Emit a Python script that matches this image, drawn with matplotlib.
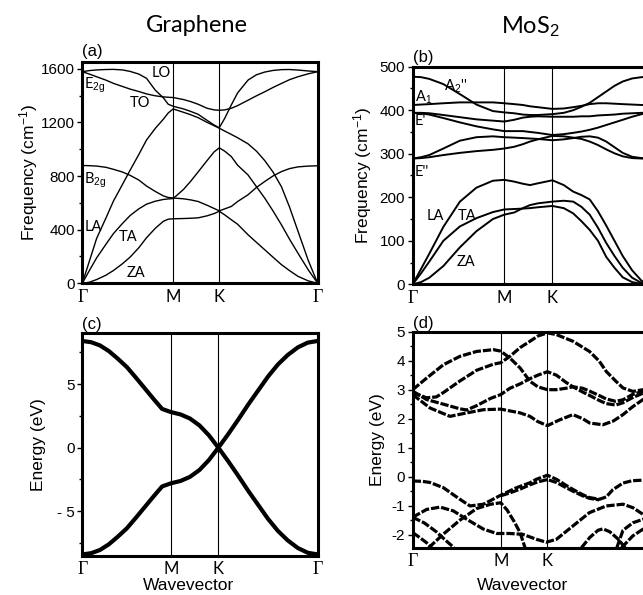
import matplotlib
matplotlib.use('Agg')
import matplotlib.pyplot as plt
from matplotlib.ticker import MultipleLocator, FixedLocator, FixedFormatter

plt.rcParams['font.family'] = ['Liberation Sans', 'DejaVu Sans']
plt.rcParams['axes.unicode_minus'] = False
plt.rcParams['mathtext.fontset'] = 'custom'
plt.rcParams['mathtext.rm'] = 'Liberation Sans'
plt.rcParams['mathtext.it'] = 'Liberation Sans:italic'

# ---------------- data ----------------
# (a) graphene phonons, wavevector along Gamma-M-K-Gamma (0..1)
gr_ph_x = [0, 0.03, 0.061, 0.10, 0.132, 0.17, 0.203, 0.24, 0.273, 0.31, 0.344, 0.365, 0.386,
           0.43, 0.46, 0.492, 0.53, 0.56, 0.582, 0.605, 0.633, 0.66, 0.704, 0.74, 0.775, 0.81,
           0.846, 0.88, 0.916, 0.96, 1.0]
gr_za = [0, 8, 28, 60, 95, 145, 195, 265, 340, 410, 462, 478, 481, 483, 485, 488, 503, 520, 537,
         510, 474, 440, 362, 305, 250, 195, 139, 95, 52, 18, 0]
gr_ta = [0, 95, 190, 290, 370, 445, 505, 555, 590, 612, 625, 629, 632, 700, 760, 830, 915, 980,
         1010, 985, 945, 880, 808, 720, 635, 540, 436, 330, 225, 100, 0]
gr_zo = [878, 877, 874, 865, 850, 830, 805, 770, 725, 685, 652, 640, 636, 630, 622, 610, 582, 558,
         540, 555, 573, 610, 660, 715, 759, 800, 833, 855, 868, 874, 876]
gr_la = [0, 165, 335, 485, 612, 735, 843, 960, 1069, 1155, 1223, 1270, 1300, 1275, 1257, 1235,
         1200, 1175, 1156, 1135, 1110, 1085, 1040, 985, 915, 830, 720, 570, 390, 170, 0]
gr_lo = [1578, 1586, 1591, 1594, 1595, 1591, 1580, 1560, 1528, 1440, 1384, 1335, 1320, 1300,
         1282, 1260, 1215, 1180, 1160, 1230, 1330, 1420, 1515, 1555, 1575, 1587, 1593, 1594,
         1590, 1583, 1578]
gr_to = [1578, 1560, 1540, 1515, 1491, 1468, 1448, 1430, 1412, 1398, 1390, 1387, 1385, 1370,
         1355, 1335, 1305, 1293, 1290, 1293, 1305, 1325, 1365, 1398, 1428, 1460, 1490, 1518,
         1540, 1562, 1578]
gr_ph_nodes = [0, 0.386, 0.582, 1.0]

# (b) MoS2 phonons
mo_ph_x = [0, 0.035, 0.07, 0.13, 0.2, 0.27, 0.34, 0.388, 0.43, 0.467, 0.497, 0.53, 0.592, 0.64,
           0.68, 0.715, 0.75, 0.785, 0.82, 0.855, 0.89, 0.93, 0.97, 1.0]
mo_la = [0, 35, 70, 132, 190, 222, 238, 240, 236, 231, 228, 232, 239, 228, 213, 205, 195, 168,
         135, 100, 65, 32, 8, 0]
mo_ta = [0, 25, 52, 100, 133, 152, 166, 172, 173, 174, 175, 177, 180, 175, 163, 145, 125, 100,
         63, 38, 16, 5, 1, 0]
mo_za = [0, 5, 15, 42, 85, 122, 150, 160, 165, 175, 182, 186, 190, 192, 190, 178, 160, 130, 95,
         65, 38, 15, 3, 0]
mo_a2 = [477, 476, 472, 460, 437, 413, 398, 395, 393, 390, 389, 389, 391, 394, 400, 408, 417,
         430, 443, 456, 466, 473, 476, 477]
mo_a1 = [412, 413, 414, 416, 418, 418, 418, 416, 414, 412, 409, 407, 403, 404, 407, 410, 414,
         416, 416, 415, 414, 413, 412, 412]
mo_e1a = [394, 394, 393, 389, 384, 379, 376, 374, 378, 383, 385, 386, 385, 385, 385, 386, 386,
          388, 389, 390, 392, 393, 394, 394]
mo_e1b = [394, 393, 390, 382, 372, 363, 356, 352, 352, 352, 350, 348, 343, 345, 348, 351, 355,
          360, 366, 372, 378, 385, 391, 394]
mo_e2a = [289, 292, 297, 312, 330, 338, 340, 338, 337, 336, 335, 334, 331, 333, 336, 339, 340,
          337, 328, 315, 302, 293, 290, 289]
mo_e2b = [289, 290, 292, 297, 302, 306, 309, 312, 316, 322, 328, 333, 341, 340, 337, 334, 328,
          320, 310, 301, 294, 290, 289, 289]
mo_ph_nodes = [0, 0.388, 0.592, 1.0]

# (c) graphene pi bands
gr_el_x = [0, 0.038, 0.075, 0.113, 0.151, 0.189, 0.226, 0.264, 0.302, 0.339, 0.377, 0.417,
           0.457, 0.498, 0.538, 0.578, 0.62, 0.662, 0.705, 0.747, 0.789, 0.831, 0.873, 0.916,
           0.958, 1.0]
gr_pi_up = [8.4, 8.3, 8.05, 7.6, 7.0, 6.35, 5.55, 4.7, 3.85, 3.05, 2.8, 2.62, 2.3, 1.75, 0.97,
            0.0, 1.07, 2.2, 3.4, 4.5, 5.6, 6.55, 7.3, 7.9, 8.27, 8.4]
gr_pi_dn = [-8.4, -8.3, -8.05, -7.6, -7.0, -6.35, -5.55, -4.7, -3.85, -3.05, -2.8, -2.62, -2.3,
            -1.75, -0.97, 0.0, -1.07, -2.2, -3.4, -4.5, -5.6, -6.55, -7.3, -7.9, -8.27, -8.4]
gr_el_nodes = [0, 0.377, 0.578, 1.0]

# (d) MoS2 electronic bands (each band: wavevector, energy)
c1_x = [0, 0.073, 0.158, 0.229, 0.3, 0.373, 0.455, 0.497, 0.53, 0.571, 0.62, 0.679, 0.72, 0.75,
        0.806, 0.85, 0.891, 0.93, 0.976, 1.0]
c1_e = [2.83, 2.37, 2.08, 2.2, 2.31, 2.33, 2.2, 2.08, 1.9, 1.76, 1.95, 2.14, 2.0, 1.85, 1.79,
        1.92, 2.14, 2.4, 2.66, 2.8]
c2_x = [0, 0.059, 0.13, 0.2, 0.271, 0.342, 0.373, 0.412, 0.455, 0.497, 0.53, 0.571, 0.609, 0.65,
        0.679, 0.72, 0.75, 0.79, 0.82, 0.86, 0.891, 0.93, 0.976, 1.0]
c2_e = [3.0, 3.4, 3.86, 4.15, 4.32, 4.38, 4.33, 4.09, 3.75, 3.29, 3.1, 3.0, 3.0, 3.05, 3.1, 3.05,
        2.95, 2.8, 2.68, 2.6, 2.65, 2.83, 2.95, 3.0]
c3_x = [0, 0.059, 0.1, 0.13, 0.2, 0.271, 0.342, 0.373, 0.412, 0.455, 0.497, 0.53, 0.571, 0.609,
        0.679, 0.749, 0.791, 0.82, 0.86, 0.891, 0.933, 0.976, 1.0]
c3_e = [2.9, 2.72, 2.75, 2.9, 3.3, 3.67, 3.88, 3.93, 4.15, 4.45, 4.67, 4.85, 4.96, 4.9, 4.67,
        4.32, 3.98, 3.63, 3.3, 3.06, 2.94, 3.0, 3.05]
c4_x = [0, 0.059, 0.13, 0.2, 0.229, 0.271, 0.33, 0.373, 0.412, 0.455, 0.497, 0.53, 0.571, 0.609,
        0.65, 0.679, 0.72, 0.75, 0.79, 0.82, 0.86, 0.891, 0.93, 0.976, 1.0]
c4_e = [2.95, 2.66, 2.5, 2.34, 2.3, 2.45, 2.7, 2.83, 3.05, 3.2, 3.38, 3.5, 3.62, 3.5, 3.25, 3.1,
        2.92, 2.8, 2.63, 2.52, 2.47, 2.55, 2.72, 2.88, 2.9]
v1_x = [0, 0.04, 0.073, 0.13, 0.2, 0.243, 0.3, 0.373, 0.44, 0.497, 0.524, 0.571, 0.609, 0.65,
        0.679, 0.72, 0.749, 0.791, 0.82, 0.848, 0.891, 0.93, 0.976, 1.0]
v1_e = [-0.15, -0.16, -0.2, -0.38, -0.78, -1.01, -0.95, -0.64, -0.38, -0.21, -0.09, 0.05, -0.09,
        -0.3, -0.44, -0.62, -0.72, -0.78, -0.7, -0.45, -0.22, -0.14, -0.12, -0.15]
v2_x = [0.373, 0.412, 0.455, 0.497, 0.53, 0.571, 0.609, 0.65, 0.679, 0.72, 0.75, 0.79]
v2_e = [-0.66, -0.56, -0.43, -0.28, -0.18, -0.1, -0.2, -0.38, -0.5, -0.66, -0.75, -0.8]
v3_x = [0, 0.059, 0.116, 0.172, 0.229, 0.3, 0.356, 0.412, 0.467, 0.524, 0.566, 0.609, 0.679,
        0.749, 0.82, 0.891, 0.933, 0.976, 1.0]
v3_e = [-1.4, -1.13, -1.05, -1.18, -1.47, -1.81, -1.96, -1.96, -1.99, -2.16, -2.26, -2.16, -1.7,
        -1.24, -1.01, -0.95, -1.07, -1.3, -1.4]
v4_x = [0, 0.05, 0.1, 0.14, 0.175]
v4_e = [-1.4, -1.6, -1.9, -2.2, -2.45]
v5_x = [0, 0.03, 0.059, 0.08]
v5_e = [-1.93, -2.1, -2.28, -2.45]
v6_x = [0.068, 0.13, 0.2, 0.271, 0.33, 0.373, 0.4, 0.43, 0.455, 0.476]
v6_e = [-2.45, -1.98, -1.5, -1.1, -0.95, -0.9, -1.15, -1.55, -1.93, -2.45]
v7_x = [0.715, 0.75, 0.785, 0.806, 0.835, 0.87, 0.9]
v7_e = [-2.45, -2.1, -1.85, -1.8, -1.9, -2.15, -2.45]
v8_x = [0.865, 0.891, 0.933, 0.976, 1.0]
v8_e = [-2.45, -1.85, -1.59, -1.47, -1.4]
v9_x = [0.885, 0.933, 0.976, 1.0]
v9_e = [-2.45, -2.04, -1.81, -1.75]
mo_el_nodes = [0, 0.373, 0.571, 1.0]

node_labels = ['\u0393', 'M', 'K', '\u0393']

# ---------------- layout ----------------
W, H = 643, 595
fig = plt.figure(figsize=(W / 100, H / 100), dpi=100)


def box(left, top, right, bottom):
    return fig.add_axes([left / W, 1 - bottom / H, (right - left) / W, (bottom - top) / H])


def style(ax, nodes, ylo, yhi, major, minor, xpad):
    ax.set_xlim(0, 1)
    ax.set_ylim(ylo, yhi)
    for n in nodes[1:-1]:
        ax.axvline(n, color='black', lw=0.8, zorder=1)
    for s in ax.spines.values():
        s.set_linewidth(2.2)
    ax.set_xticks(nodes)
    ax.set_xticklabels(node_labels)
    for i, t in enumerate(ax.get_xticklabels()):
        if i in (0, 3):
            t.set_fontfamily('Liberation Serif')
            t.set_fontsize(13)
        else:
            t.set_fontfamily('Lato')
            t.set_fontsize(12)
    ax.tick_params(axis='x', length=0, pad=xpad)
    ax.yaxis.set_major_locator(MultipleLocator(major))
    ax.yaxis.set_minor_locator(MultipleLocator(minor))
    ax.tick_params(axis='y', which='major', direction='out', length=3.5, width=1,
                   labelsize=11, pad=2)
    ax.tick_params(axis='y', which='minor', direction='out', length=2.5, width=1)


lbl_font = dict(family='Lato', fontsize=10.5)

# (a)
ax = box(82.3, 62, 317.7, 283.3)
for y in (gr_za, gr_ta, gr_zo, gr_la, gr_lo, gr_to):
    ax.plot(gr_ph_x, y, color='black', lw=1.0, zorder=2)
style(ax, gr_ph_nodes, 0, 1650, 400, 200, 4)
ax.set_ylabel('Frequency (cm$^{-1}$)', fontsize=12.5)
ax.yaxis.set_label_coords(-0.178, 0.5)
ax.text(0.334, 1569, 'LO', ha='center', va='center', **lbl_font)
ax.text(0.245, 1345, 'TO', ha='center', va='center', **lbl_font)
ax.text(0.008, 1476, r'E$_{\mathrm{2g}}$', ha='left', va='center', **lbl_font)
ax.text(0.008, 769, r'B$_{\mathrm{2g}}$', ha='left', va='center', **lbl_font)
ax.text(0.008, 423, 'LA', ha='left', va='center', **lbl_font)
ax.text(0.196, 348, 'TA', ha='center', va='center', **lbl_font)
ax.text(0.228, 80, 'ZA', ha='center', va='center', **lbl_font)
ax.text(0.0, 1.015, '(a)', transform=ax.transAxes, fontsize=12, ha='left', va='bottom')

# (b)
ax = box(412.7, 66.7, 648.7, 284.3)
for y in (mo_la, mo_ta, mo_za, mo_a2, mo_a1, mo_e1a, mo_e1b, mo_e2a, mo_e2b):
    ax.plot(mo_ph_x, y, color='black', lw=1.4, zorder=2)
style(ax, mo_ph_nodes, 0, 500, 100, 50, 4)
ax.set_ylabel('Frequency (cm$^{-1}$)', fontsize=12.5)
ax.yaxis.set_label_coords(-0.164, 0.5)
ax.text(0.183, 456, 'A$_{2}$\'\'', ha='center', va='center', **lbl_font)
ax.text(0.01, 429, 'A$_{1}$', ha='left', va='center', **lbl_font)
ax.text(0.01, 376, "E'", ha='left', va='center', **lbl_font)
ax.text(0.01, 258, "E''", ha='left', va='center', **lbl_font)
ax.text(0.097, 157, 'LA', ha='center', va='center', **lbl_font)
ax.text(0.232, 157, 'TA', ha='center', va='center', **lbl_font)
ax.text(0.226, 51, 'ZA', ha='center', va='center', **lbl_font)
ax.text(0.0, 1.01, '(b)', transform=ax.transAxes, fontsize=12, ha='left', va='bottom')

# (c)
ax = box(82.3, 332.7, 317.7, 555.7)
ax.plot(gr_el_x, gr_pi_up, color='black', lw=3.0, zorder=2)
ax.plot(gr_el_x, gr_pi_dn, color='black', lw=3.0, zorder=2)
style(ax, gr_el_nodes, -8.5, 9.05, 5, 2.5, 3.5)
ax.yaxis.set_major_locator(FixedLocator([-5, 0, 5]))
ax.yaxis.set_major_formatter(FixedFormatter(['- 5', '0', '5']))
ax.set_ylabel('Energy (eV)', fontsize=12.5)
ax.yaxis.set_label_coords(-0.154, 0.5)
ax.text(0.0, 1.005, '(c)', transform=ax.transAxes, fontsize=12, ha='left', va='bottom')

# (d)
ax = box(412.7, 331.7, 648.7, 547.7)
bands = [(c1_x, c1_e), (c2_x, c2_e), (c3_x, c3_e), (c4_x, c4_e), (v1_x, v1_e), (v2_x, v2_e),
         (v3_x, v3_e), (v4_x, v4_e), (v5_x, v5_e), (v6_x, v6_e), (v7_x, v7_e), (v8_x, v8_e),
         (v9_x, v9_e)]
for bx, be in bands:
    ax.plot(bx, be, color='black', lw=2.3, linestyle=(0, (2.6, 0.6)), zorder=2)
style(ax, mo_el_nodes, -2.45, 5, 1, 0.5, 3.5)
ax.set_ylabel('Energy (eV)', fontsize=12.5)
ax.yaxis.set_label_coords(-0.118, 0.5)
ax.text(0.0, 1.005, '(d)', transform=ax.transAxes, fontsize=12, ha='left', va='bottom')

# titles and x labels
fig.text(197 / W, 1 - 25 / H, 'Graphene', family='Lato', fontsize=17, ha='center', va='center')
fig.text(530 / W, 1 - 27 / H, r'MoS$_{2}$', family='Lato', fontsize=17, ha='center', va='center')
fig.text(189 / W, 1 - 586 / H, 'Wavevector', fontsize=12.5, ha='center', va='center')
fig.text(523 / W, 1 - 586 / H, 'Wavevector', fontsize=12.5, ha='center', va='center')

fig.savefig('out.png', dpi=100)
